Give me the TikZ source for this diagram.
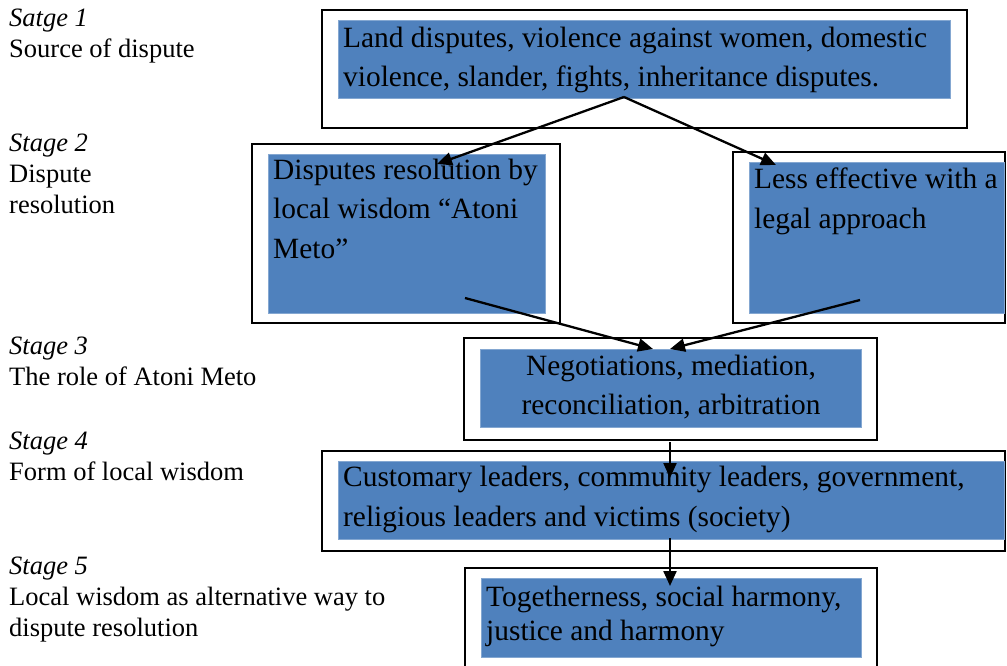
\documentclass[tikz,border=0pt]{standalone}
\usepackage{fontspec}
\setmainfont{Liberation Serif}
\usetikzlibrary{arrows.meta}
\definecolor{boxblue}{HTML}{4F81BD}
\tikzset{
  outerbox/.style={draw=black, line width=1.6pt},
  bluebox/.style={fill=boxblue, draw=boxblue!70!white, line width=0.6pt},
  bodytext/.style={inner sep=0pt, font=\fontsize{29.4}{39.5}\selectfont, align=left},
  ctrtext/.style={inner sep=0pt, font=\fontsize{29.4}{39}\selectfont, align=center},
  stagetext/.style={inner sep=0pt, font=\fontsize{26.5}{31}\selectfont, align=left, anchor=base west},
  arr/.style={line width=2.3pt, -{Triangle[length=15pt,width=13pt]}},
}
\begin{document}
\begin{tikzpicture}[x=1pt,y=-1pt]
\useasboundingbox (0,0) rectangle (1007,666);
% stage labels (anchored at the baseline of the last line)
\node[stagetext] (s1) at (9,58) {\textit{Satge 1}\\Source of dispute};
\node[stagetext] (s2) at (9,213) {\textit{Stage 2}\\Dispute\\resolution};
\node[stagetext] (s3) at (9,385) {\textit{Stage 3}\\The role of Atoni Meto};
\node[stagetext] (s4) at (9,480) {\textit{Stage 4}\\Form of local wisdom};
\node[stagetext] (s5) at (9,636) {\textit{Stage 5}\\Local wisdom as alternative way to\\dispute resolution};
% outer boxes
\draw[outerbox] (322,10) rectangle (967,128) coordinate (o1);
\draw[outerbox] (252,144) rectangle (560,323) coordinate (o2);
\draw[outerbox] (733,152) rectangle (1005,323) coordinate (o3);
\draw[outerbox] (464,338) rectangle (877,440) coordinate (o4);
\draw[outerbox] (322,451) rectangle (1005,551) coordinate (o5);
\draw[outerbox] (465,568) rectangle (877,680) coordinate (o6);
% blue boxes
\node[bluebox, anchor=north west, minimum width=612pt, minimum height=78pt] (b1) at (338,20) {};
\node[bluebox, anchor=north west, minimum width=277pt, minimum height=159pt] (b2) at (268,154) {};
\node[bluebox, anchor=north west, minimum width=255pt, minimum height=151pt] (b3) at (749,162) {};
\node[bluebox, anchor=north west, minimum width=381pt, minimum height=78pt] (b4) at (480,349) {};
\node[bluebox, anchor=north west, minimum width=666pt, minimum height=78pt] (b5) at (338,461) {};
\node[bluebox, anchor=north west, minimum width=380pt, minimum height=79pt] (b6) at (481,578) {};
% texts (anchored at the baseline of the last line)
\node[bodytext, anchor=base west] (t1) at (343,87) {Land disputes, violence against women, domestic\\violence, slander, fights, inheritance disputes.};
\node[bodytext, anchor=base west] (t2) at (273,258) {Disputes resolution by\\local wisdom \textquotedblleft Atoni\\Meto\textquotedblright};
\node[bodytext, anchor=base west] (t3) at (754,228) {Less effective with a\\legal approach};
\node[ctrtext, anchor=base] (t4) at (671,414) {Negotiations, mediation,\\reconciliation, arbitration};
\node[bodytext, anchor=base west] (t5) at (343,526) {Customary leaders, community leaders, government,\\religious leaders and victims (society)};
\node[bodytext, anchor=base west, font=\fontsize{29.4}{34}\selectfont] (t6) at (486,640) {Togetherness, social harmony,\\justice and harmony};
% arrows
\coordinate (a1) at (624,97);
\coordinate (a2) at (437,164);
\coordinate (a3) at (776,165);
\coordinate (a4) at (465,298);
\coordinate (a5) at (860,300);
\coordinate (a6) at (653,349);
\coordinate (a7) at (670,349);
\coordinate (a8) at (670,442);
\coordinate (a9) at (670,478);
\coordinate (a10) at (670,538);
\coordinate (a11) at (670,586);
\draw[arr] (a1) -- (a2);
\draw[arr] (a1) -- (a3);
\draw[arr] (a4) -- (a6);
\draw[arr] (a5) -- (a7);
\draw[arr] (a8) -- (a9);
\draw[arr] (a10) -- (a11);
\end{tikzpicture}
\end{document}
